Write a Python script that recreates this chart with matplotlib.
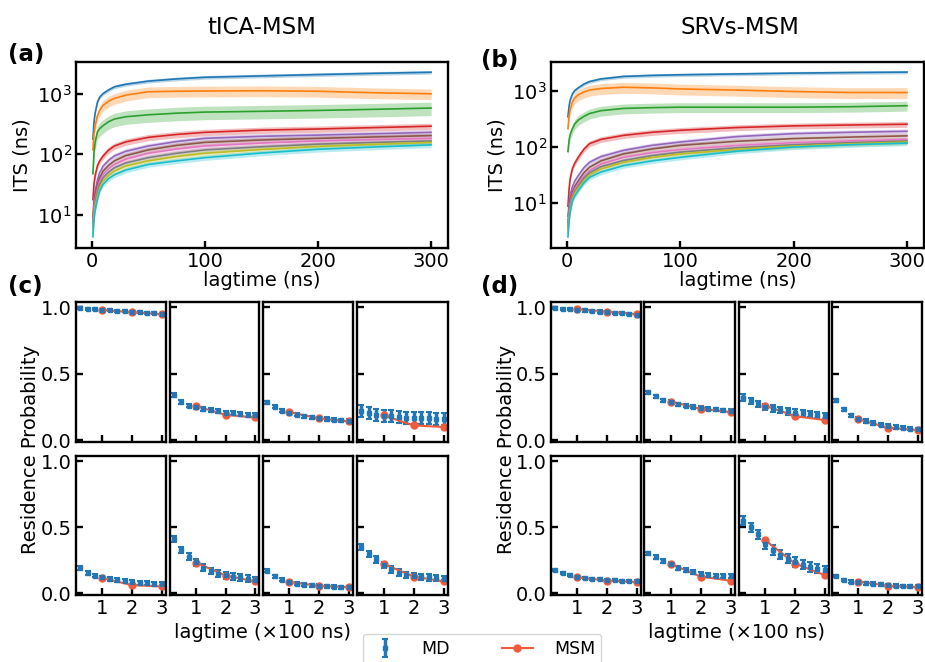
import numpy as np
import matplotlib
matplotlib.use('Agg')
import matplotlib.pyplot as plt
from matplotlib.ticker import NullLocator

W, H = 925, 662
FONTSIZE = 14

# ---- ITS data (lagtime in ns) ----
lag = [1, 2, 3, 5, 7, 10, 15, 20, 30, 50, 75, 100, 150, 200, 250, 300]

its_tica = [
    [178, 350, 480, 720, 870, 1000, 1150, 1290, 1420, 1600, 1740, 1850, 1950, 2050, 2150, 2240],
    [118, 220, 300, 430, 530, 640, 750, 830, 940, 1070, 1090, 1100, 1110, 1090, 1030, 990],
    [48, 110, 160, 234, 265, 296, 345, 380, 415, 447, 475, 495, 510, 527, 550, 577],
    [18, 33, 45, 65, 78, 94, 118, 137, 160, 190, 212, 230, 250, 261, 275, 290],
    [9.4, 18, 25, 38, 50, 64, 80, 94, 112, 137, 162, 183, 198, 207, 218, 230],
    [8, 15, 21, 31, 41, 53, 66, 78, 95, 118, 140, 157, 172, 183, 193, 203],
    [7, 13, 18, 27, 36, 46, 58, 68, 83, 104, 122, 137, 153, 166, 175, 183],
    [6, 11, 16, 24, 32, 41, 51, 60, 72, 88, 104, 118, 133, 147, 157, 166],
    [5, 10, 14, 21, 28, 36, 45, 53, 64, 78, 92, 104, 120, 135, 146, 157],
    [4.4, 8.5, 12, 18, 25, 32, 40, 46, 55, 68, 78, 88, 105, 121, 132, 143],
]
its_srv = [
    [350, 550, 700, 900, 1030, 1150, 1340, 1490, 1660, 1840, 1920, 1970, 2040, 2110, 2160, 2200],
    [216, 370, 480, 650, 760, 860, 970, 1050, 1120, 1180, 1150, 1100, 1050, 990, 950, 950],
    [84, 135, 170, 216, 260, 305, 355, 400, 450, 494, 510, 520, 520, 520, 530, 552],
    [8.9, 18, 28, 42, 52, 66, 92, 116, 138, 163, 185, 201, 225, 241, 250, 258],
    [5.9, 10, 14, 20, 25, 31, 43, 54, 68, 88, 108, 124, 155, 175, 185, 193],
    [4.5, 8, 11, 16, 20, 25, 35, 44, 57, 76, 93, 108, 128, 143, 152, 160],
    [4, 7, 10, 14, 18, 22, 30, 38, 50, 66, 80, 91, 108, 121, 130, 138],
    [3.5, 6.3, 9, 13, 16, 20, 28, 35, 45, 58, 71, 82, 98, 111, 121, 129],
    [3, 5.5, 8, 12, 15, 18.5, 25, 32, 41, 54, 66, 76, 92, 105, 115, 124],
    [2.5, 4.8, 7, 11, 13.5, 16.7, 23, 29, 36, 47, 57, 66, 85, 101, 111, 119],
]
# relative half-width of the uncertainty band for each process
band_tica = [0.07, 0.2, 0.25, 0.12, 0.1, 0.1, 0.1, 0.1, 0.1, 0.1]
band_srv = [0.07, 0.22, 0.2, 0.12, 0.1, 0.1, 0.1, 0.1, 0.1, 0.1]

# ---- residence probability (lagtime x100 ns) ----
t_md = [0.25, 0.5, 0.75, 1.0, 1.25, 1.5, 1.75, 2.0, 2.25, 2.5, 2.75, 3.0]
t_msm = [1, 2, 3]

md_tica = [
    [0.995, 0.99, 0.985, 0.98, 0.977, 0.973, 0.97, 0.966, 0.962, 0.958, 0.954, 0.95],
    [0.34, 0.29, 0.26, 0.25, 0.235, 0.225, 0.215, 0.205, 0.2, 0.195, 0.19, 0.185],
    [0.285, 0.25, 0.22, 0.205, 0.19, 0.18, 0.172, 0.165, 0.158, 0.153, 0.148, 0.143],
    [0.22, 0.2, 0.19, 0.18, 0.178, 0.172, 0.168, 0.165, 0.163, 0.163, 0.16, 0.158],
    [0.19, 0.155, 0.133, 0.118, 0.105, 0.098, 0.09, 0.085, 0.078, 0.073, 0.07, 0.068],
    [0.41, 0.325, 0.275, 0.232, 0.193, 0.168, 0.148, 0.135, 0.125, 0.118, 0.11, 0.1],
    [0.17, 0.128, 0.1, 0.083, 0.07, 0.063, 0.058, 0.053, 0.05, 0.048, 0.045, 0.045],
    [0.35, 0.295, 0.255, 0.213, 0.18, 0.155, 0.138, 0.128, 0.123, 0.118, 0.113, 0.108],
]
md_tica_err = [0.008, 0.015, 0.012, 0.045, 0.015, 0.025, 0.012, 0.025]
msm_tica = [
    [0.98, 0.963, 0.948],
    [0.255, 0.19, 0.17],
    [0.21, 0.163, 0.14],
    [0.185, 0.11, 0.098],
    [0.113, 0.06, 0.05],
    [0.23, 0.133, 0.088],
    [0.083, 0.055, 0.045],
    [0.22, 0.125, 0.088],
]

md_srv = [
    [0.995, 0.99, 0.985, 0.98, 0.976, 0.972, 0.968, 0.964, 0.96, 0.955, 0.95, 0.945],
    [0.36, 0.33, 0.3, 0.29, 0.27, 0.26, 0.25, 0.243, 0.235, 0.23, 0.225, 0.22],
    [0.32, 0.295, 0.27, 0.25, 0.238, 0.225, 0.215, 0.205, 0.2, 0.195, 0.188, 0.18],
    [0.3, 0.23, 0.185, 0.16, 0.143, 0.128, 0.115, 0.105, 0.098, 0.093, 0.085, 0.08],
    [0.175, 0.15, 0.135, 0.12, 0.115, 0.108, 0.105, 0.1, 0.098, 0.093, 0.09, 0.088],
    [0.3, 0.27, 0.243, 0.218, 0.193, 0.173, 0.158, 0.148, 0.138, 0.133, 0.13, 0.128],
    [0.55, 0.5, 0.445, 0.37, 0.327, 0.29, 0.26, 0.235, 0.215, 0.198, 0.185, 0.173],
    [0.13, 0.1, 0.087, 0.08, 0.074, 0.07, 0.065, 0.06, 0.057, 0.052, 0.05, 0.05],
]
md_srv_err = [0.008, 0.012, 0.025, 0.012, 0.008, 0.015, 0.035, 0.01]
msm_srv = [
    [0.985, 0.968, 0.948],
    [0.29, 0.235, 0.21],
    [0.258, 0.18, 0.15],
    [0.155, 0.093, 0.075],
    [0.118, 0.095, 0.083],
    [0.22, 0.125, 0.093],
    [0.40, 0.223, 0.136],
    [0.087, 0.055, 0.045],
]

MD_COLOR = '#2277b8'
MSM_COLOR = '#ef5b3c'

plt.rcParams['font.family'] = ['DejaVu Sans']
fig = plt.figure(figsize=(W / 100, H / 100), dpi=100)


def box(l, t, r, b):
    return [l / W, 1 - b / H, (r - l) / W, (b - t) / H]


def style(ax):
    for s in ax.spines.values():
        s.set_linewidth(1.7)
    ax.tick_params(direction='in', length=5, width=1.7, labelsize=FONTSIZE, pad=3)


def its_panel(rect, data, band):
    ax = fig.add_axes(rect)
    colors = plt.rcParams['axes.prop_cycle'].by_key()['color']
    for i, y in enumerate(data):
        y = np.array(y, dtype=float)
        ax.fill_between(lag, y * (1 - band[i]), y * (1 + band[i]), color=colors[i], alpha=0.3, lw=0)
        ax.plot(lag, y, color=colors[i], lw=1.2)
    ax.set_yscale('log')
    ax.yaxis.set_minor_locator(NullLocator())
    ax.set_xticks([0, 100, 200, 300])
    ax.set_ylabel('ITS (ns)', fontsize=FONTSIZE, labelpad=4)
    ax.set_xlabel('lagtime (ns)', fontsize=FONTSIZE, labelpad=0)
    style(ax)
    return ax


its_panel(box(76, 62, 448, 248), its_tica, band_tica)
its_panel(box(551, 62, 924, 248), its_srv, band_srv)


def rp_block(xs, md, md_err, msm):
    rows = [(302, 442), (456, 595)]
    handles = None
    for k in range(8):
        r, c = divmod(k, 4)
        ax = fig.add_axes(box(xs[c][0], rows[r][0], xs[c][1], rows[r][1]))
        eb = ax.errorbar(t_md, md[k], yerr=md_err[k], fmt='s', ms=3.5, color=MD_COLOR,
                         ecolor=MD_COLOR, elinewidth=2.5, capsize=2.5, capthick=1.5)
        ln, = ax.plot(t_msm, msm[k], '-o', color=MSM_COLOR, ms=5, lw=1.5)
        handles = (eb, ln)
        ax.set_xlim(0.11, 3.14)
        ax.set_ylim(-0.015, 1.04)
        ax.set_xticks([1, 2, 3])
        ax.set_yticks([0.0, 0.5, 1.0])
        style(ax)
        if c != 0:
            ax.set_yticklabels([])
        if r == 0:
            ax.set_xticklabels([])
    return handles


xs_c = [(76, 166), (170, 259), (263, 353), (357, 448)]
xs_d = [(551, 641), (644, 735), (739, 829), (832, 922)]
handles = rp_block(xs_c, md_tica, md_tica_err, msm_tica)
rp_block(xs_d, md_srv, md_srv_err, msm_srv)

# titles, panel letters and shared labels
fig.text(262 / W, 1 - 28 / H, 'tICA-MSM', ha='center', va='center', fontsize=16.5)
fig.text(740 / W, 1 - 28 / H, 'SRVs-MSM', ha='center', va='center', fontsize=16.5)
for x, y, s in [(8, 55, '(a)'), (481, 60, '(b)'), (8, 287, '(c)'), (481, 287, '(d)')]:
    fig.text(x / W, 1 - y / H, s, ha='left', va='center', fontsize=16.5, fontweight='bold')
for x in (31, 506):
    fig.text(x / W, 1 - 449 / H, 'Residence Probability', rotation=90,
             ha='center', va='center', fontsize=FONTSIZE)
for x in (262, 737):
    fig.text(x / W, 1 - 633 / H, 'lagtime (\u00d7100 ns)', ha='center', va='center', fontsize=FONTSIZE)

fig.legend(handles, ['MD', 'MSM'], loc='upper center', bbox_to_anchor=(482 / W, 1 - 634 / H),
           ncol=2, fontsize=12.5, frameon=True, borderpad=0.35, borderaxespad=0,
           columnspacing=3.0, handlelength=1.8, handletextpad=1.2)

fig.savefig('out.png', dpi=100)
